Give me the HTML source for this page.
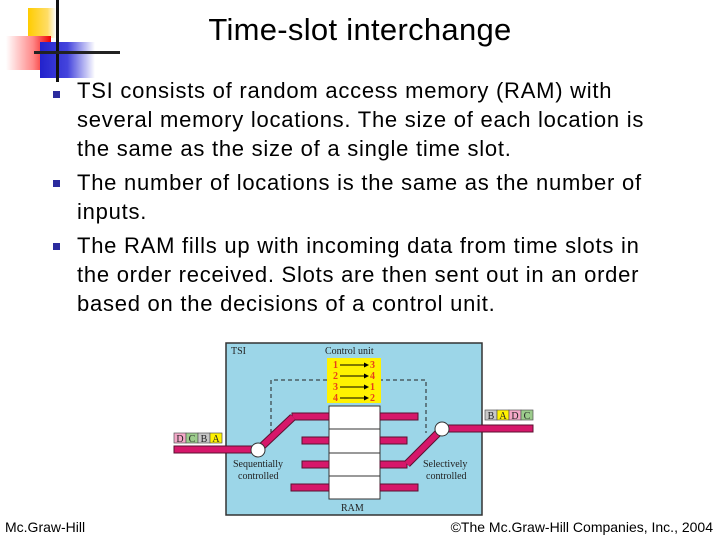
<!DOCTYPE html>
<html><head><meta charset="utf-8"><style>
body{margin:0;width:720px;height:540px;background:#fff;position:relative;overflow:hidden;font-family:"Liberation Sans","DejaVu Sans",sans-serif}
.t{position:absolute;white-space:nowrap}
.l{position:absolute;left:77px;font-size:22px;letter-spacing:0.75px;white-space:nowrap;color:#000}
.b{position:absolute;left:53px;width:7px;height:7px;background:#2b2b9e}
</style></head><body>
<div style="position:absolute;left:28px;top:8px;width:28px;height:30px;background:linear-gradient(90deg,#fc0,#fd6 70%,#fff)"></div>
<div style="position:absolute;left:6px;top:36px;width:45px;height:34px;background:linear-gradient(90deg,#fff,#f88 60%,#e00)"></div>
<div style="position:absolute;left:40px;top:42px;width:55px;height:36px;background:linear-gradient(90deg,#22c,#44d 50%,#fff)"></div>
<div style="position:absolute;left:56px;top:0;width:3px;height:82px;background:#111"></div>
<div style="position:absolute;left:34px;top:51px;width:86px;height:3px;background:#222"></div>
<div class="t" style="left:0;width:720px;text-align:center;top:12px;font-size:31px;letter-spacing:0.3px">Time-slot interchange</div>
<div class="b" style="top:91px"></div><div class="b" style="top:180px"></div><div class="b" style="top:243px"></div>
<div class="l" style="top:78px">TSI consists of random access memory (RAM) with</div>
<div class="l" style="top:107px">several memory locations. The size of each location is</div>
<div class="l" style="top:136px">the same as the size of a single time slot.</div>
<div class="l" style="top:170px">The number of locations is the same as the number of</div>
<div class="l" style="top:199px">inputs.</div>
<div class="l" style="top:233px">The RAM fills up with incoming data from time slots in</div>
<div class="l" style="top:262px">the order received. Slots are then sent out in an order</div>
<div class="l" style="top:291px">based on the decisions of a control unit.</div>
<svg style="position:absolute;left:0;top:0" width="720" height="540" font-family="Liberation Serif,serif">
<rect x="226" y="343" width="256" height="172" fill="#9cd6e8" stroke="#333" stroke-width="1.5"/>
<text x="231" y="354" font-size="10" fill="#222">TSI</text>
<text x="325" y="354" font-size="10" fill="#222">Control unit</text>
<path d="M271,433 V380 H426 V433" fill="none" stroke="#222" stroke-dasharray="4,3"/>
<rect x="327" y="358" width="54" height="45" fill="#fff200"/>
<g font-size="10" font-weight="bold" fill="#e8401a">
<text x="333" y="368">1</text><text x="370" y="368">3</text>
<text x="333" y="379">2</text><text x="370" y="379">4</text>
<text x="333" y="390">3</text><text x="370" y="390">1</text>
<text x="333" y="401">4</text><text x="370" y="401">2</text></g>
<g stroke="#000"><path d="M340,365H366M340,376H366M340,387H366M340,398H366"/></g>
<g fill="#000"><path d="M369,365l-5,-2.5v5zM369,376l-5,-2.5v5zM369,387l-5,-2.5v5zM369,398l-5,-2.5v5z"/></g>
<rect x="329" y="406" width="51" height="93" fill="#fff" stroke="#333"/>
<path d="M329,429H380M329,453H380M329,476H380" stroke="#333"/>
<g fill="#d6176a" stroke="#5a1030" stroke-width="1">
<rect x="292" y="413" width="37" height="7"/><rect x="380" y="413" width="38" height="7"/>
<rect x="302" y="437" width="27" height="7"/><rect x="380" y="437" width="27" height="7"/>
<rect x="302" y="461" width="27" height="7"/><rect x="380" y="461" width="27" height="7"/>
<rect x="291" y="484" width="38" height="7"/><rect x="380" y="484" width="38" height="7"/>
<rect x="174" y="446" width="82" height="7"/>
<rect x="442" y="425" width="91" height="7"/>
</g>
<path d="M258,450 L293,417" stroke="#5a1030" stroke-width="8"/><path d="M258,450 L293,417" stroke="#d6176a" stroke-width="6"/>
<path d="M442,429 L407,464" stroke="#5a1030" stroke-width="8"/><path d="M442,429 L407,464" stroke="#d6176a" stroke-width="6"/>
<circle cx="258" cy="450" r="7" fill="#fff" stroke="#333"/>
<circle cx="442" cy="429" r="7" fill="#fff" stroke="#333"/>
<g font-size="10" fill="#222">
<text x="233" y="467">Sequentially</text><text x="238" y="479">controlled</text>
<text x="423" y="467">Selectively</text><text x="426" y="479">controlled</text>
<text x="341" y="511">RAM</text></g>
<g stroke="#555" stroke-width="0.7" font-size="10">
<rect x="174" y="433" width="12" height="10" fill="#f4a8c8"/><rect x="186" y="433" width="12" height="10" fill="#9ccc8c"/>
<rect x="198" y="433" width="12" height="10" fill="#c8c8c8"/><rect x="210" y="433" width="12" height="10" fill="#fff200"/>
<rect x="485" y="410" width="12" height="10" fill="#c8c8c8"/><rect x="497" y="410" width="12" height="10" fill="#fff200"/>
<rect x="509" y="410" width="12" height="10" fill="#f4a8c8"/><rect x="521" y="410" width="12" height="10" fill="#9ccc8c"/></g>
<g font-size="10" fill="#222" stroke="none" text-anchor="middle">
<text x="180" y="442">D</text><text x="192" y="442">C</text><text x="204" y="442">B</text><text x="216" y="442">A</text>
<text x="491" y="419">B</text><text x="503" y="419">A</text><text x="515" y="419">D</text><text x="527" y="419">C</text></g>
</svg>
<div class="t" style="left:5px;top:519px;font-size:14px">Mc.Graw-Hill</div>
<div class="t" style="right:7px;top:519px;font-size:14px">©The Mc.Graw-Hill Companies, Inc., 2004</div>
</body></html>
